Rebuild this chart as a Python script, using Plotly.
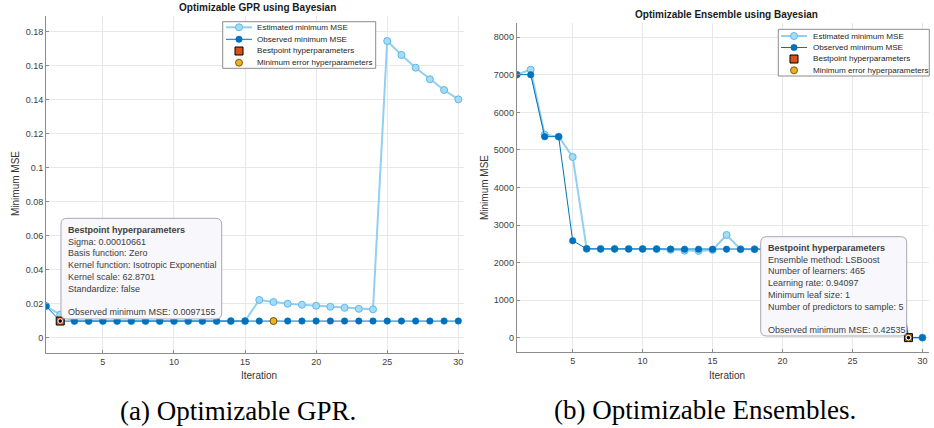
import plotly.graph_objects as go

# ---------------- data ----------------
iterations = list(range(1, 31))

gpr_estimated = [0.0185, 0.0135, 0.0097, 0.0097, 0.0097, 0.0097, 0.0097, 0.0097, 0.0097, 0.0097,
                 0.0097, 0.0097, 0.0097, 0.0097, 0.0097, 0.0221, 0.0209, 0.0199, 0.0193, 0.0187,
                 0.0181, 0.0175, 0.0169, 0.0166, 0.1744, 0.1662, 0.1587, 0.1519, 0.1456, 0.1401]
gpr_observed = [0.0185, 0.0097, 0.0097, 0.0097, 0.0097, 0.0097, 0.0097, 0.0097, 0.0097, 0.0097,
                0.0097, 0.0097, 0.0097, 0.0097, 0.0097, 0.0097, 0.0097, 0.0097, 0.0097, 0.0097,
                0.0097, 0.0097, 0.0097, 0.0097, 0.0097, 0.0097, 0.0097, 0.0097, 0.0097, 0.0097]
gpr_best_iter = [2]
gpr_best_val = [0.0097155]
gpr_minerr_iter = [17]
gpr_minerr_val = [0.0097155]

ens_estimated = [7004, 7137, 5406, 5353, 4812, 2366, 2364, 2364, 2363, 2363,
                 2360, 2340, 2317, 2309, 2335, 2735, 2356, 2356, 2356, 2356,
                 2356, 2356, 2356, 2356, 2356, 2356, 2356, 2356, 0.43, 0.43]
ens_observed = [7004, 7004, 5353, 5353, 2583, 2366, 2364, 2364, 2363, 2363,
                2360, 2358, 2356, 2356, 2356, 2356, 2356, 2356, 2356, 2356,
                2356, 2356, 2356, 2356, 2356, 2356, 2356, 2356, 0.42535, 0.42535]
ens_best_iter = [29]
ens_best_val = [0.42535]
ens_minerr_iter = [29]
ens_minerr_val = [0.42535]

gpr_y_ticks = [0, 0.02, 0.04, 0.06, 0.08, 0.1, 0.12, 0.14, 0.16, 0.18]
ens_y_ticks = [0, 1000, 2000, 3000, 4000, 5000, 6000, 7000, 8000]
x_ticks = [5, 10, 15, 20, 25, 30]

series_names = ["Estimated minimum MSE", "Observed minimum MSE",
                "Bestpoint hyperparameters", "Minimum error hyperparameters"]

gpr_tip = ["Sigma: 0.00010661", "Basis function: Zero", "Kernel function: Isotropic Exponential",
           "Kernel scale: 62.8701", "Standardize: false", "", "Observed minimum MSE: 0.0097155"]
ens_tip = ["Ensemble method: LSBoost", "Number of learners: 465", "Learning rate: 0.94097",
           "Minimum leaf size: 1", "Number of predictors to sample: 5", "", "Observed minimum MSE: 0.42535"]

# ---------------- style ----------------
W, H = 934, 428
SANS = "Liberation Sans, Arial, sans-serif"
EST_LINE = "#93CFF0"
EST_FILL = "#A6DBF6"
EST_EDGE = "#5DB8E8"
OBS = "#0072BD"
BEST = "#D95319"
MINERR = "#EDB120"


def px(x):
    return x / W


def py(y):
    return (H - y) / H


fig = go.Figure()


def add_panel(xa, ya, est, obs, bi, bv, mi, mv):
    fig.add_trace(go.Scatter(x=iterations, y=est, mode="lines+markers", name=series_names[0],
                             line=dict(color=EST_LINE, width=2),
                             marker=dict(size=7, color=EST_FILL, line=dict(color=EST_EDGE, width=1)),
                             xaxis=xa, yaxis=ya, showlegend=False))
    fig.add_trace(go.Scatter(x=iterations, y=obs, mode="lines+markers", name=series_names[1],
                             line=dict(color=OBS, width=1),
                             marker=dict(size=6.5, color=OBS, line=dict(color=OBS, width=0.5)),
                             xaxis=xa, yaxis=ya, showlegend=False))
    fig.add_trace(go.Scatter(x=bi, y=bv, mode="markers", name=series_names[2],
                             marker=dict(symbol="square", size=8, color=BEST, line=dict(color="#000000", width=1)),
                             xaxis=xa, yaxis=ya, showlegend=False))
    fig.add_trace(go.Scatter(x=mi, y=mv, mode="markers", name=series_names[3],
                             marker=dict(symbol="circle", size=7, color=MINERR, line=dict(color="#5a4000", width=0.8)),
                             xaxis=xa, yaxis=ya, showlegend=False))
    # data-tip indicator on the best point
    fig.add_trace(go.Scatter(x=bi, y=bv, mode="markers", showlegend=False,
                             marker=dict(symbol="circle", size=4.5, color="#000000", line=dict(color="#FFFFFF", width=1)),
                             xaxis=xa, yaxis=ya))


add_panel("x", "y", gpr_estimated, gpr_observed, gpr_best_iter, gpr_best_val, gpr_minerr_iter, gpr_minerr_val)
add_panel("x2", "y2", ens_estimated, ens_observed, ens_best_iter, ens_best_val, ens_minerr_iter, ens_minerr_val)

shapes = []
annotations = []


def legend_box(x0, y0, x1, y1, rows, lx0, lx1, tx):
    """Compact MATLAB-style legend (decoration) drawn in paper coordinates."""
    shapes.append(dict(type="rect", xref="paper", yref="paper", x0=px(x0), x1=px(x1), y0=py(y1), y1=py(y0),
                       fillcolor="#FFFFFF", line=dict(color="#8C8C8C", width=1), layer="above"))
    cx = (lx0 + lx1) / 2
    r = rows[0]
    shapes.append(dict(type="line", xref="paper", yref="paper", x0=px(lx0), x1=px(lx1), y0=py(r), y1=py(r),
                       line=dict(color=EST_LINE, width=2), layer="above"))
    shapes.append(dict(type="circle", xref="paper", yref="paper", x0=px(cx - 3.5), x1=px(cx + 3.5),
                       y0=py(r + 3.5), y1=py(r - 3.5), fillcolor=EST_FILL, line=dict(color=EST_EDGE, width=1),
                       layer="above"))
    r = rows[1]
    shapes.append(dict(type="line", xref="paper", yref="paper", x0=px(lx0), x1=px(lx1), y0=py(r), y1=py(r),
                       line=dict(color=OBS, width=1), layer="above"))
    shapes.append(dict(type="circle", xref="paper", yref="paper", x0=px(cx - 3.2), x1=px(cx + 3.2),
                       y0=py(r + 3.2), y1=py(r - 3.2), fillcolor=OBS, line=dict(color=OBS, width=0.5),
                       layer="above"))
    r = rows[2]
    shapes.append(dict(type="rect", xref="paper", yref="paper", x0=px(cx - 4), x1=px(cx + 4),
                       y0=py(r + 4), y1=py(r - 4), fillcolor=BEST, line=dict(color="#000000", width=1),
                       layer="above"))
    r = rows[3]
    shapes.append(dict(type="circle", xref="paper", yref="paper", x0=px(cx - 3.5), x1=px(cx + 3.5),
                       y0=py(r + 3.5), y1=py(r - 3.5), fillcolor=MINERR, line=dict(color="#5a4000", width=0.8),
                       layer="above"))
    for name, r in zip(series_names, rows):
        annotations.append(dict(text=name, x=px(tx), y=py(r), xref="paper", yref="paper", showarrow=False,
                                xanchor="left", yanchor="middle",
                                font=dict(family=SANS, size=8.1, color="#262626")))


def tip_box(x0, y0, x1, y1, tx, ty, lines):
    rad = 6
    pts = lambda x, y: "%.5f,%.5f" % (px(x), py(y))
    path = ("M " + pts(x0 + rad, y0) + " L " + pts(x1 - rad, y0) + " Q " + pts(x1, y0) + " " + pts(x1, y0 + rad) +
            " L " + pts(x1, y1 - rad) + " Q " + pts(x1, y1) + " " + pts(x1 - rad, y1) +
            " L " + pts(x0 + rad, y1) + " Q " + pts(x0, y1) + " " + pts(x0, y1 - rad) +
            " L " + pts(x0, y0 + rad) + " Q " + pts(x0, y0) + " " + pts(x0 + rad, y0) + " Z")
    shapes.append(dict(type="path", xref="paper", yref="paper", path=path, fillcolor="#F7F7FC",
                       line=dict(color="#A8A8B0", width=1), layer="above"))
    annotations.append(dict(text="<b>Bestpoint hyperparameters</b><br>" + "<br>".join(lines),
                            x=px(tx), y=py(ty), xref="paper", yref="paper", showarrow=False,
                            xanchor="left", yanchor="top", align="left",
                            font=dict(family=SANS, size=9, color="#404040")))


legend_box(222.7, 21.7, 375.7, 68.3, [27.3, 39.3, 51.0, 62.7], 226, 252, 255)
legend_box(778.3, 29.3, 929.3, 76.0, [36.0, 47.5, 59.0, 70.3], 781, 807, 811)
tip_box(61, 218.3, 221.7, 319, 65.5, 222.5, gpr_tip)
tip_box(760.7, 236.7, 906.7, 336, 765.5, 241, ens_tip)

axis_common = dict(showgrid=True, gridcolor="#E8E8E8", gridwidth=1, showline=True, linecolor="#8C8C8C",
                   linewidth=1, ticks="inside", ticklen=3, tickcolor="#8C8C8C", zeroline=False,
                   tickfont=dict(family=SANS, size=9, color="#404040"))

annotations += [
    dict(text="<b>Optimizable GPR using Bayesian</b>", x=0.2762, y=0.9825, xref="paper", yref="paper",
         showarrow=False, xanchor="center", yanchor="middle", font=dict(family=SANS, size=10, color="#1A1A1A")),
    dict(text="<b>Optimizable Ensemble using Bayesian</b>", x=0.778, y=0.9657, xref="paper", yref="paper",
         showarrow=False, xanchor="center", yanchor="middle", font=dict(family=SANS, size=10, color="#1A1A1A")),
    dict(text="Iteration", x=0.2773, y=py(375), xref="paper", yref="paper", showarrow=False,
         xanchor="center", yanchor="middle", font=dict(family=SANS, size=10, color="#333333")),
    dict(text="Iteration", x=0.778, y=py(375), xref="paper", yref="paper", showarrow=False,
         xanchor="center", yanchor="middle", font=dict(family=SANS, size=10, color="#333333")),
    dict(text="Minimum MSE", x=px(15), y=py(184), xref="paper", yref="paper", showarrow=False,
         textangle=-90, xanchor="center", yanchor="middle", font=dict(family=SANS, size=10, color="#333333")),
    dict(text="Minimum MSE", x=px(484), y=py(188), xref="paper", yref="paper", showarrow=False,
         textangle=-90, xanchor="center", yanchor="middle", font=dict(family=SANS, size=10, color="#333333")),
    dict(text="(a) Optimizable GPR.", x=px(238), y=py(411), xref="paper", yref="paper",
         showarrow=False, xanchor="center", yanchor="middle",
         font=dict(family="Liberation Serif, Times New Roman, serif", size=27, color="#000000")),
    dict(text="(b) Optimizable Ensembles.", x=px(705), y=py(410), xref="paper", yref="paper",
         showarrow=False, xanchor="center", yanchor="middle",
         font=dict(family="Liberation Serif, Times New Roman, serif", size=27, color="#000000")),
]

fig.update_layout(
    width=W, height=H, margin=dict(l=0, r=0, t=0, b=0),
    paper_bgcolor="#FFFFFF", plot_bgcolor="#FFFFFF",
    showlegend=False,
    xaxis=dict(domain=[px(46), px(464)], range=[1, 30.4], tickvals=x_ticks, anchor="y", **axis_common),
    yaxis=dict(domain=[py(352.7), py(16)], range=[-0.0089, 0.1891], tickvals=gpr_y_ticks,
               ticktext=[("%g" % v) for v in gpr_y_ticks], anchor="x", **axis_common),
    xaxis2=dict(domain=[px(516.7), px(929)], range=[1, 30.47], tickvals=x_ticks, anchor="y2", **axis_common),
    yaxis2=dict(domain=[py(352.3), py(23)], range=[-390, 8380], tickvals=ens_y_ticks,
                anchor="x2", **axis_common),
    shapes=shapes,
    annotations=annotations,
)

fig.write_html("out.html")
